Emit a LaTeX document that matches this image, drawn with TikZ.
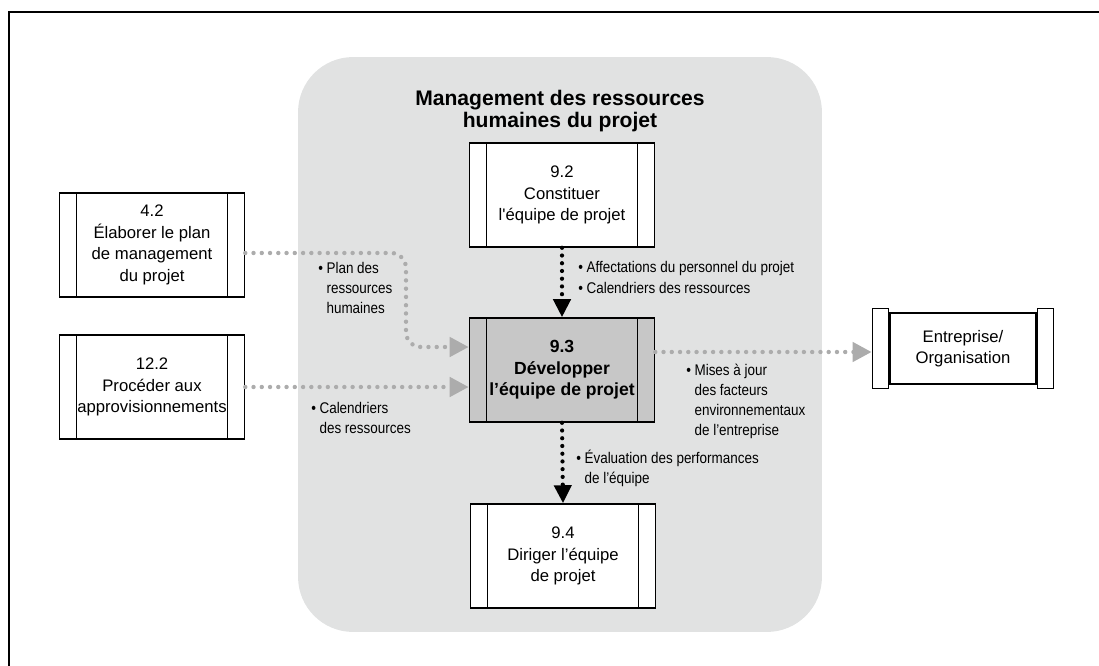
\documentclass[tikz,border=0pt]{standalone}
\usepackage{fontspec}
\setmainfont{Liberation Sans}
\newfontfamily\narrowsans{Liberation Sans}[FakeStretch=0.87]
\usetikzlibrary{arrows.meta, positioning, calc}

\definecolor{zonegray}{RGB}{225,226,226}
\definecolor{flowgray}{RGB}{172,172,172}
\definecolor{keygray}{RGB}{199,199,199}

\newcommand{\boxfont}{\fontsize{9.5}{12.3}\selectfont}
\newcommand{\lblfont}{\narrowsans\fontsize{8.8}{11.5}\selectfont}

\begin{document}
\begin{tikzpicture}[
    x=0.02cm, y=-0.02cm,
    zone/.style={fill=zonegray, rounded corners=1.1cm, minimum width=10.48cm, minimum height=11.5cm},
    proc/.style={draw, line width=0.9pt, fill=white, minimum width=3.7cm, minimum height=2.08cm,
        align=center, font=\boxfont,
        path picture={
            \draw[line width=0.9pt] ([xshift=0.34cm]path picture bounding box.north west) -- ([xshift=0.34cm]path picture bounding box.south west);
            \draw[line width=0.9pt] ([xshift=-0.34cm]path picture bounding box.north east) -- ([xshift=-0.34cm]path picture bounding box.south east);
        }},
    bar/.style={draw, line width=0.9pt, fill=white, minimum width=0.32cm, minimum height=1.6cm, inner sep=0pt},
    grayflow/.style={draw=flowgray, line width=2.5pt, line cap=round, dash pattern=on 0pt off 4.7pt,
        -{Triangle[length=0.38cm, width=0.38cm]}},
    blackflow/.style={draw=black, line width=2.4pt, line cap=round, dash pattern=on 0pt off 4.4pt,
        -{Triangle[length=0.36cm, width=0.34cm]}},
    lbl/.style={anchor=base west, inner sep=0pt, font=\lblfont}
]
\useasboundingbox (0,0) rectangle (1099,666);

% cadre
\draw[line width=1.5pt, line join=miter] (9,666) -- (9,12) -- (1099,12);

% zone du domaine
\node[zone] (zone) at (560,344.5) {};
\node[font=\fontsize{12}{12.5}\selectfont\bfseries, align=center] (title) at (560,111)
    {Management des ressources\\humaines du projet};

% processus
\node[proc] (p42) at (152,245) {4.2\\Élaborer le plan\\de management\\du projet};
\node[proc] (p122) at (152,387) {12.2\\Procéder aux\\approvisionnements};
\node[proc] (p92) at (562,195) {9.2\\Constituer\\l\textquotesingle équipe de projet};
\node[proc, fill=keygray, font=\fontsize{10}{12.3}\selectfont\bfseries] (p93) at (562,370)
    {9.3\\Développer\\l’équipe de projet};
\node[proc] (p94) at (563,556) {9.4\\Diriger l’équipe\\de projet};

% entreprise
\node[draw, line width=0.9pt, fill=white, minimum width=2.92cm, minimum height=1.42cm,
    align=center, font=\boxfont] (ent) at (963,348.5) {Entreprise/\\Organisation};
\node[bar, left=0pt of ent] (entL) {};
\node[bar, right=0pt of ent] (entR) {};

% flux
\coordinate (inA) at ([yshift=-0.16cm]p42.east);
\coordinate (bend) at (406,300);
\coordinate (inB) at ([yshift=0.46cm]p93.west);
\draw[grayflow, rounded corners=0.3cm] (inA) -| (bend) |- (inB);
\draw[grayflow] (p122.east) -- (p122.east -| p93.west);

\coordinate (outA) at ([yshift=0.36cm]p93.east);
\draw[grayflow] (outA) -- (outA -| entL.west);

\draw[blackflow] (p92.south) -- (p93.north);
\draw[blackflow] (p93.south) -- (p94.north);

% libelles
\node[lbl] (lplan) at (318,273)
    {\begin{tabular}[t]{@{}l@{\hspace{2pt}}l@{}}\textbullet & Plan des\\ & ressources\\ & humaines\end{tabular}};
\node[lbl] (lcal) at (311,413)
    {\begin{tabular}[t]{@{}l@{\hspace{2pt}}l@{}}\textbullet & Calendriers\\ & des ressources\end{tabular}};
\node[lbl] (laff) at (578,272)
    {\begin{tabular}[t]{@{}l@{\hspace{2pt}}l@{}}\textbullet & Affectations du personnel du projet\\[1pt]
     \textbullet & Calendriers des ressources\end{tabular}};
\node[lbl] (lmaj) at (686,375)
    {\begin{tabular}[t]{@{}l@{\hspace{2pt}}l@{}}\textbullet & Mises à jour\\ & des facteurs\\ & environnementaux\\ & de l’entreprise\end{tabular}};
\node[lbl] (leval) at (576,463)
    {\begin{tabular}[t]{@{}l@{\hspace{2pt}}l@{}}\textbullet & Évaluation des performances\\ & de l’équipe\end{tabular}};

\end{tikzpicture}
\end{document}
